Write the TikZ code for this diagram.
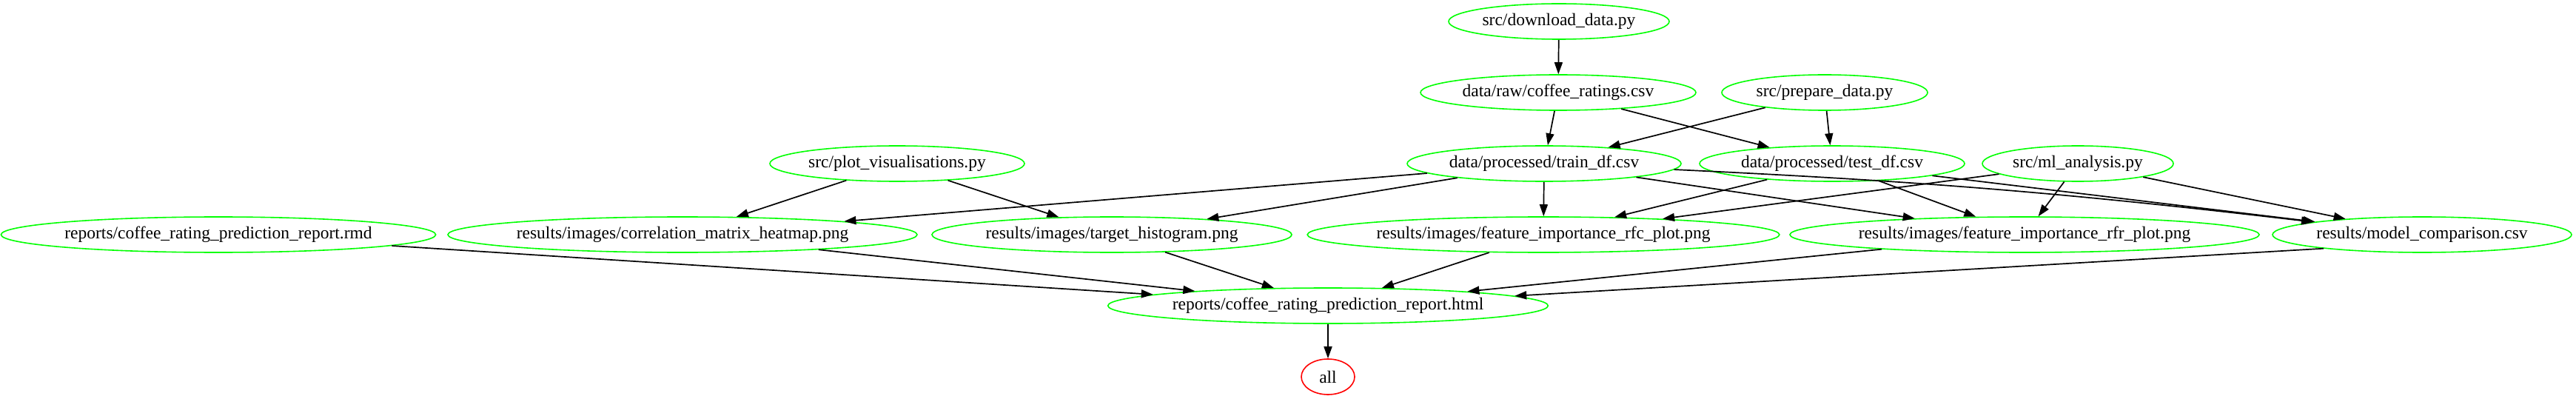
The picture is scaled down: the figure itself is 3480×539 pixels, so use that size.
\documentclass[tikz,border=0pt]{standalone}
\usepackage{fontspec}
\setmainfont{Liberation Serif}
\usetikzlibrary{shapes.geometric,arrows.meta}
\tikzset{
  gnode/.style={ellipse, draw={rgb,255:red,0;green,255;blue,0}, line width=1.6bp, inner sep=0pt,
    minimum height=48bp, font=\fontsize{23.5bp}{28bp}\selectfont},
  rnode/.style={gnode, draw={rgb,255:red,255;green,0;blue,0}},
  edge/.style={-{Triangle[length=16bp,width=11bp]}, line width=1.7bp, black}
}
\begin{document}
\begin{tikzpicture}[x=1bp,y=-1bp]
\useasboundingbox (0,0) rectangle (3480,539);
% row 1
\node[gnode, minimum width=298bp] (download) at (2106,29) {src/download\_data.py};
% row 2
\node[gnode, minimum width=372bp] (raw) at (2105,125) {data/raw/coffee\_ratings.csv};
\node[gnode, minimum width=278bp] (prepare) at (2465,125) {src/prepare\_data.py};
% row 3
\node[gnode, minimum width=344bp] (plotvis) at (1212,221) {src/plot\_visualisations.py};
\node[gnode, minimum width=370bp] (train) at (2086,221) {data/processed/train\_df.csv};
\node[gnode, minimum width=358bp] (test) at (2475,221) {data/processed/test\_df.csv};
\node[gnode, minimum width=258bp] (ml) at (2807,221) {src/ml\_analysis.py};
% row 4
\node[gnode, minimum width=582bp] (rmd) at (295,317) {reports/coffee\_rating\_prediction\_report.rmd};
\node[gnode, minimum width=626bp] (corr) at (922,317) {results/images/correlation\_matrix\_heatmap.png};
\node[gnode, minimum width=486bp] (target) at (1502,317) {results/images/target\_histogram.png};
\node[gnode, minimum width=626bp] (rfc) at (2085,317) {results/images/feature\_importance\_rfc\_plot.png};
\node[gnode, minimum width=626bp] (rfr) at (2735,317) {results/images/feature\_importance\_rfr\_plot.png};
\node[gnode, minimum width=404bp] (model) at (3272,317) {results/model\_comparison.csv};
% row 5
\node[gnode, minimum width=588bp] (html) at (1794,413) {reports/coffee\_rating\_prediction\_report.html};
% row 6
\node[rnode, minimum width=72bp] (all) at (1794,509) {all};
% edges
\draw[edge] (download) -- (raw);
\draw[edge] (raw) -- (train);
\draw[edge] (raw) -- (test);
\draw[edge] (prepare) -- (train);
\draw[edge] (prepare) -- (test);
\draw[edge] (plotvis) -- (corr);
\draw[edge] (plotvis) -- (target);
\draw[edge] (train) -- (corr);
\draw[edge] (train) -- (target);
\draw[edge] (train) -- (rfc);
\draw[edge] (train) -- (rfr);
\draw[edge] (train) to[bend left=2] (model);
\draw[edge] (test) -- (rfc);
\draw[edge] (test) -- (rfr);
\draw[edge] (test) -- (model);
\draw[edge] (ml) -- (rfc);
\draw[edge] (ml) -- (rfr);
\draw[edge] (ml) -- (model);
\draw[edge] (rmd) -- (html);
\draw[edge] (corr) -- (html);
\draw[edge] (target) -- (html);
\draw[edge] (rfc) -- (html);
\draw[edge] (rfr) -- (html);
\draw[edge] (model.188) -- (html.3);
\draw[edge] (html) -- (all);
\end{tikzpicture}
\end{document}
